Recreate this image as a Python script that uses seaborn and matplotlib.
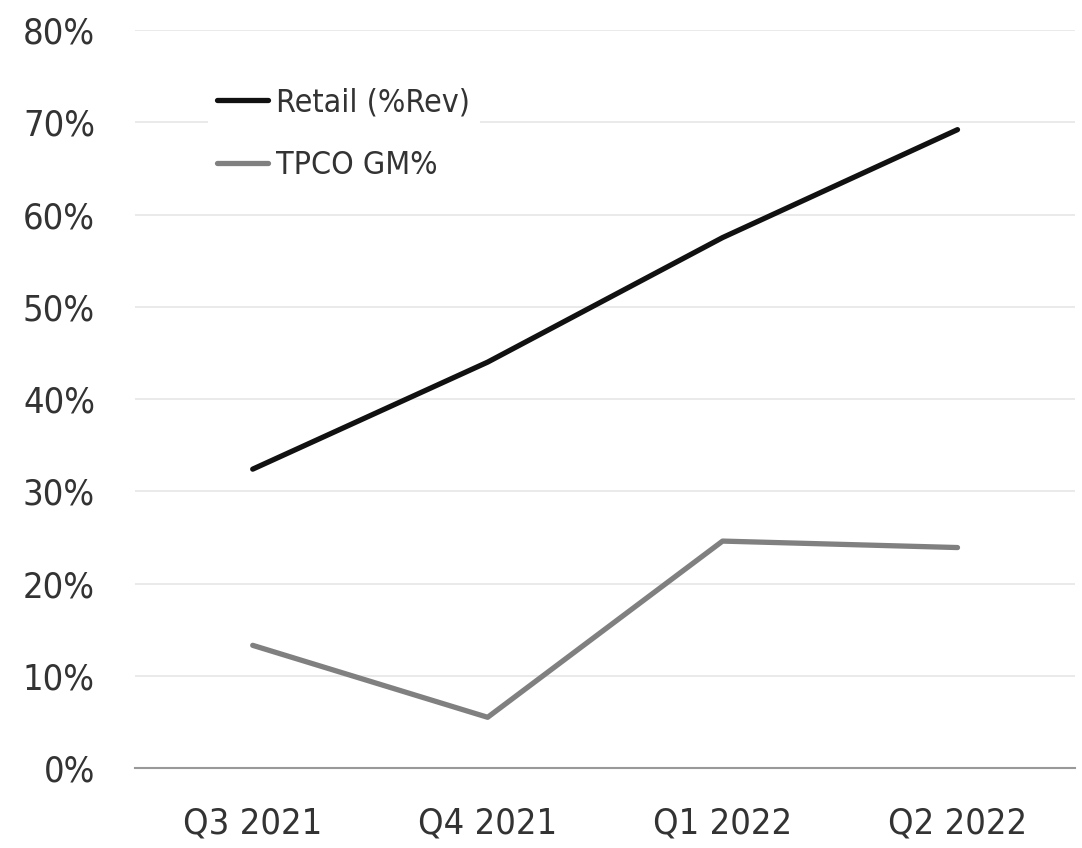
import pandas as pd
import matplotlib
matplotlib.use("Agg")
import matplotlib.pyplot as plt
import seaborn as sns
from matplotlib.ticker import PercentFormatter

quarters = ["Q3 2021", "Q4 2021", "Q1 2022", "Q2 2022"]
retail_pct_rev = [32.4, 44.0, 57.5, 69.2]
tpco_gm_pct = [13.3, 5.5, 24.6, 23.9]
series_names = ["Retail (%Rev)", "TPCO GM%"]

df = pd.DataFrame({
    "quarter": quarters * 2,
    "value": retail_pct_rev + tpco_gm_pct,
    "series": [series_names[0]] * 4 + [series_names[1]] * 4,
})

sns.set_style("white")
plt.rcParams["font.family"] = ["DejaVu Sans"]
plt.rcParams["font.stretch"] = "condensed"
text_color = "#333333"

fig = plt.figure(figsize=(10.82, 8.48), dpi=100)
ax = fig.add_axes([0.125, 0.0943, 0.8685, 0.8703])

sns.lineplot(data=df, x="quarter", y="value", hue="series",
             palette={series_names[0]: "#111111", series_names[1]: "#808080"},
             linewidth=3.8, ax=ax, sort=False)
for ln in ax.lines:
    ln.set_solid_capstyle("round")

ax.set_xlim(-0.5, 3.5)
ax.set_ylim(0, 80)
ax.set_yticks(range(0, 81, 10))
ax.yaxis.set_major_formatter(PercentFormatter(decimals=0))
ax.grid(axis="y", color="#e6e6e6", linewidth=1.2)
ax.set_axisbelow(True)
for side in ["left", "right", "top"]:
    ax.spines[side].set_visible(False)
ax.spines["bottom"].set_color("#999999")
ax.spines["bottom"].set_linewidth(1.5)
ax.set_xlabel("")
ax.set_ylabel("")
ax.tick_params(axis="both", length=0, labelsize=26, colors=text_color)
ax.tick_params(axis="y", pad=29)
ax.tick_params(axis="x", pad=28)

leg = ax.legend(loc="upper left", bbox_to_anchor=(0.06, 0.957), fontsize=23,
                frameon=True, facecolor="white", edgecolor="none", framealpha=1,
                handlelength=1.6, handletextpad=0.25, labelspacing=1.0,
                borderpad=0.3)
for t in leg.get_texts():
    t.set_color(text_color)
for h in leg.get_lines():
    h.set_linewidth(3.8)

fig.savefig("out.png", dpi=100)
